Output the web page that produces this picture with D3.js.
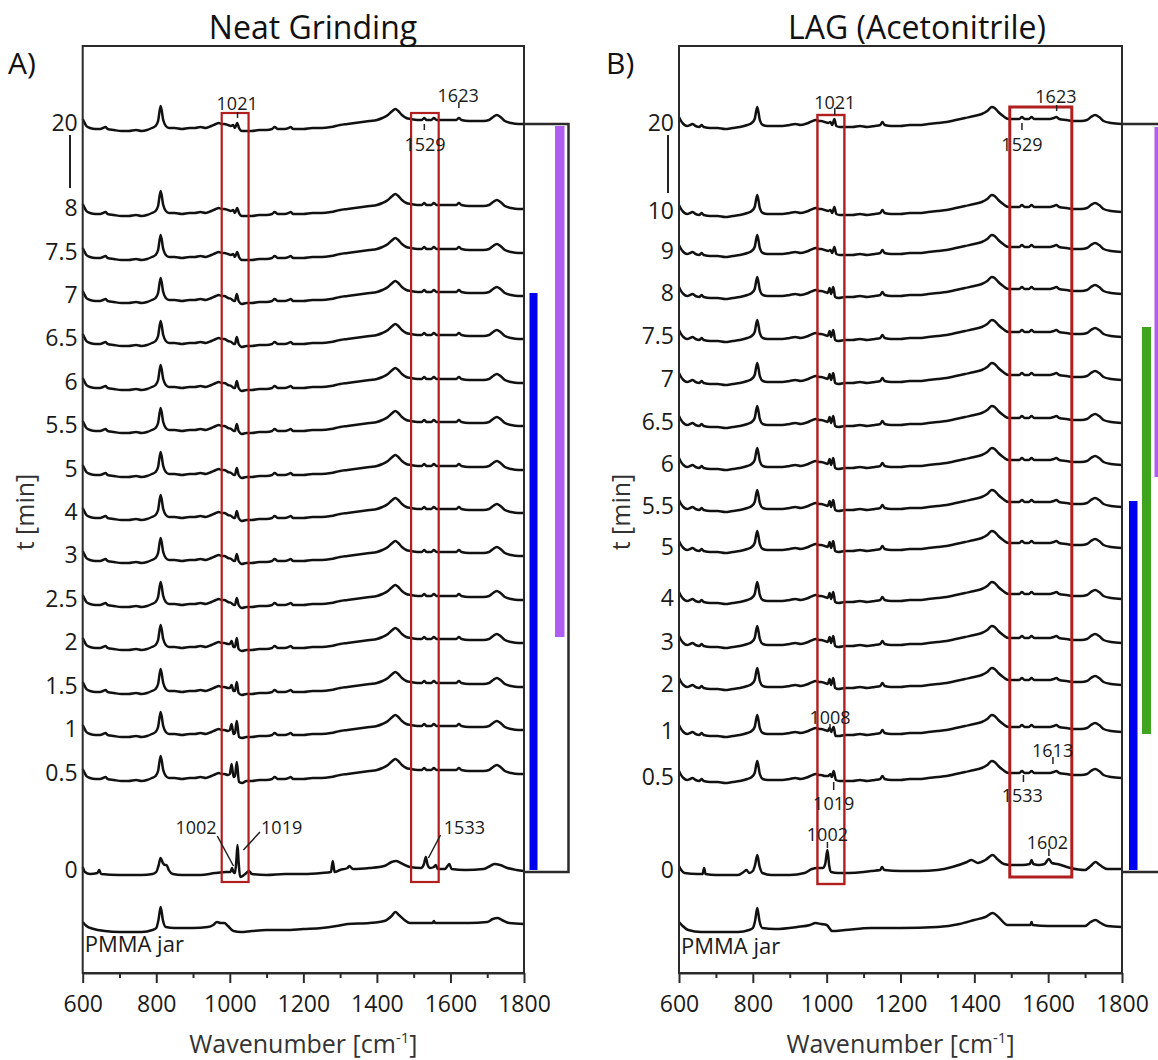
<!DOCTYPE html>
<html>
<head>
<meta charset="UTF-8">
<style>
  body { margin: 0; background: #fff; }
  svg { display: block; font-family: "Open Sans", sans-serif; }
</style>
</head>
<body>
<svg></svg>
<script src="https://d3js.org/d3.v7.min.js"></script>
<script>
const width = 1158, height = 1060;

// wavenumber ticks
const wnTicks = [600, 800, 1000, 1200, 1400, 1600, 1800];
const wnMinor = [700, 900, 1100, 1300, 1500, 1700];

// ---- panel A (neat grinding) ----
const timesA = ["20", "8", "7.5", "7", "6.5", "6", "5.5", "5", "4", "3", "2.5", "2", "1.5", "1", "0.5", "0"];
const offsetsA = [747, 662, 618, 575, 532, 488, 445, 401, 358, 315, 271, 228, 184, 141, 97, 0];
const jarOffsetA = -53;

// generic spectrum shape [wavenumber, intensity a.u.]
const baseA = [[600,4],[604,1],[610,-3],[620,-5],[635,-6],[648,-6],[655,-5],[662,-4],[668,-6],[685,-7],[705,-8],[725,-8],[745,-7],[760,-8],[775,-7],[788,-5],[798,-3],[805,2],[812,17],[819,3],[826,-3],[835,-5],[850,-5],[870,-6],[890,-5],[905,-5],[920,-4],[935,-5],[950,-3],[962,-1],[970,0],[978,-1],
  [1060,-8],[1080,-7],[1100,-7],[1115,-6],[1122,-4],[1130,-6],[1150,-6],[1160,-5],[1166,-4],[1172,-6],[1200,-6],[1225,-5],[1250,-5],[1275,-4],[1300,-2],[1320,-1],[1340,0],[1360,1],[1380,2],[1400,3],[1415,5],[1430,8],[1442,12],[1450,14],[1458,12],[1468,8],[1480,5],[1492,4],[1510,3],[1522,3],[1529,5],[1535,3],[1548,3],[1555,5],[1562,3],[1580,3],[1600,3],[1616,3],[1623,5],[1630,3],[1650,2],[1670,2],[1690,2],[1705,3],[1716,6],[1726,8],[1736,6],[1748,2],[1765,0],[1785,-1],[1800,-1]];

// 985-1045 band, changes with milling time
const bandA20 = [[985,-1],[995,-2],[1003,-3],[1009,-2],[1014,-5],[1020,0],[1025,-5],[1033,-8],[1045,-8]];
const bandA7 = [[985,-1],[995,-3],[1004,-4],[1011,-6],[1014,-6],[1019,1],[1024,-6],[1033,-9],[1045,-8]];
const bandA2 = [[985,-1],[995,-2],[1000,-2],[1005,1],[1010,-5],[1014,-5],[1019,4],[1024,-7],[1033,-9],[1045,-8]];
const bandA1 = [[985,-1],[995,-2],[1000,-1],[1005,5],[1010,-5],[1014,-4],[1019,8],[1025,-8],[1034,-9],[1045,-8]];
const bandA05 = [[985,-1],[995,-2],[1000,-1],[1005,9],[1010,-4],[1014,-3],[1019,11],[1025,-9],[1034,-10],[1045,-8]];
const bandsA = [bandA20, bandA20, bandA20, bandA7, bandA7, bandA7, bandA7, bandA7, bandA7, bandA7, bandA7, bandA2, bandA2, bandA1, bandA05];

const zeroA = [[600,3],[606,-2],[620,-4],[640,-3],[645,0],[650,-4],[700,-5],[760,-5],[790,-4],[800,-2],[806,4],[812,12],[818,7],[824,5],[828,5],[834,0],[845,-4],[870,-5],[920,-5],[960,-3],[990,-2],[1002,-2],[1006,2],[1010,-2],[1014,-3],[1018,10],[1021,25],[1024,8],[1028,-7],[1035,-6],[1045,-3],[1052,-1],[1060,-4],[1100,-5],[1150,-4],[1200,-4],[1250,-3],[1275,-2],[1280,9],[1285,-2],[1300,0],[1320,2],[1325,4],[1335,1],[1380,2],[1420,4],[1440,8],[1452,9],[1465,7],[1490,3],[1520,2],[1528,6],[1533,13],[1538,5],[1545,2],[1555,3],[1560,5],[1566,1],[1585,1],[1592,4],[1597,6],[1603,1],[1640,0],[1690,1],[1708,4],[1720,6],[1735,5],[1755,2],[1780,0],[1800,-1]];

const jarA = [[600,1],[610,-3],[630,-6],[660,-8],[700,-9],[760,-9],[790,-7],[800,-5],[806,3],[812,16],[818,3],[826,-4],[850,-5],[900,-5],[940,-4],[955,-2],[965,1],[975,0],[985,0],[995,-3],[1010,-8],[1030,-9],[1060,-8],[1100,-7],[1150,-7],[1200,-6],[1250,-5],[1290,-3],[1320,-1],[1380,0],[1420,2],[1440,7],[1450,11],[1460,8],[1475,3],[1490,0],[1520,0],[1552,0],[1555,2],[1558,0],[1600,0],[1650,0],[1700,1],[1715,4],[1728,5],[1740,3],[1760,0],[1800,-1]];

// [text, text wn, text offset, line x1, y1, x2, y2]
const annotA = [
  ["1021", 1020, 767, 1021, 758, 1021, 752],
  ["1623", 1621, 775, 1623, 768, 1623, 762],
  ["1529", 1531, 726, 1529, 746, 1529, 740],
  ["1002", 908, 43, 966, 34, 1010, 4],
  ["1019", 1141, 43, 1082, 38, 1037, 20],
  ["1533", 1638, 43, 1573, 35, 1540, 12]
];
// [wn from, wn to, top, bottom]
const boxesA = [[978, 1051, 757, -12], [1493, 1568, 757, -12]];
// time-range bars [bottom, top]
const barsA = [[0, 577], [233, 744]];

// ---- panel B (LAG acetonitrile) ----
const timesB = ["20", "10", "9", "8", "7.5", "7", "6.5", "6", "5.5", "5", "4", "3", "2", "1", "0.5", "0"];
const offsetsB = [747, 659, 619, 577, 534, 491, 448, 406, 364, 323, 272, 228, 186, 139, 93, 0];
const jarOffsetB = -55;

const baseB = [[600,6],[604,3],[612,-1],[622,-3],[630,-2],[636,-1],[645,-3],[655,-4],[661,-2],[667,-4],[685,-5],[705,-5],[725,-6],[745,-5],[765,-4],[785,-2],[797,0],[805,4],[812,16],[819,3],[827,-2],[840,-3],[860,-3],[880,-3],[900,-2],[915,-1],[930,-2],[950,0],[962,2],[970,3],[980,2],
  [1070,-4],[1090,-3],[1110,-4],[1130,-3],[1145,-2],[1151,1],[1157,-2],[1175,-3],[1200,-3],[1225,-2],[1250,-2],[1275,-1],[1300,0],[1325,1],[1350,3],[1375,5],[1400,7],[1420,9],[1435,12],[1447,16],[1455,15],[1465,11],[1478,7],[1492,4],[1510,4],[1522,4],[1529,6],[1536,4],[1548,4],[1555,6],[1562,4],[1585,4],[1605,4],[1615,5],[1622,6],[1630,4],[1650,3],[1670,2],[1690,2],[1705,3],[1716,6],[1727,8],[1738,6],[1750,2],[1770,0],[1800,-1]];

const bandB20 = [[985,2],[995,1],[1004,0],[1010,1],[1015,-2],[1021,4],[1026,-3],[1036,-4],[1050,-4]];
const bandB8 = [[985,2],[995,1],[1003,0],[1008,5],[1012,-1],[1018,6],[1023,-4],[1032,-5],[1050,-4]];
const bandB1 = [[985,2],[995,1],[1003,0],[1008,3],[1012,-1],[1019,4],[1024,-5],[1034,-5],[1050,-4]];
const bandB05 = [[985,2],[995,1],[1004,1],[1010,3],[1014,0],[1019,6],[1025,-3],[1035,-4],[1050,-4]];
const bandsB = [bandB20, bandB20, bandB20, bandB8, bandB8, bandB8, bandB8, bandB8, bandB8, bandB8, bandB8, bandB8, bandB8, bandB1, bandB05];

const zeroB = [[600,4],[606,0],[615,-3],[650,-4],[664,-4],[668,2],[672,-4],[700,-5],[760,-5],[775,-2],[783,0],[790,-3],[800,-1],[806,5],[812,15],[818,4],[826,-3],[850,-5],[900,-5],[940,-3],[960,1],[975,2],[990,2],[996,6],[1002,20],[1007,4],[1012,-2],[1030,-3],[1060,-3],[1100,-2],[1120,-1],[1145,0],[1150,3],[1156,0],[1200,-1],[1250,-1],[1300,0],[1340,3],[1380,8],[1392,10],[1410,7],[1430,10],[1450,15],[1462,11],[1480,6],[1500,5],[1530,5],[1550,6],[1555,10],[1560,6],[1575,5],[1590,6],[1602,11],[1610,7],[1625,6],[1660,2],[1700,0],[1715,4],[1728,8],[1740,5],[1760,1],[1800,1]];

const jarB = [[600,3],[610,-1],[625,-5],[660,-7],[700,-7],[760,-7],[790,-5],[800,-3],[806,4],[812,17],[818,4],[826,-3],[860,-4],[920,-2],[955,0],[970,2],[985,1],[1000,0],[1015,-6],[1050,-5],[1120,-3],[1200,-3],[1300,-2],[1360,1],[1400,5],[1430,8],[1450,12],[1465,8],[1490,0],[1520,0],[1552,0],[1555,3],[1558,0],[1600,-1],[1650,-1],[1700,-1],[1715,3],[1728,5],[1742,2],[1760,-1],[1800,-2]];

const annotB = [
  ["1021", 1022, 768, 1022, 762, 1022, 755],
  ["1623", 1621, 774, 1623, 765, 1623, 759],
  ["1529", 1529, 726, 1529, 747, 1529, 740],
  ["1008", 1009, 153, 1009, 146, 1009, 139],
  ["1019", 1019, 67, 1019, 88, 1019, 80],
  ["1613", 1612, 120, 1613, 113, 1613, 106],
  ["1533", 1530, 75, 1533, 95, 1533, 88],
  ["1002", 1002, 36, 1002, 28, 1002, 22],
  ["1602", 1598, 28, 1602, 21, 1602, 14]
];
const boxesB = [[975, 1048, 755, -14], [1496, 1664, 763, -7]];
const barsB = [[0, 369], [136, 543], [393, 743]];

// ---- drawing ----
const svg = d3.select("svg").attr("width", width).attr("height", height);

const y = d3.scaleLinear().domain([-103, 824]).range([973, 46]);

function merge(base, band) {
  const lo = band[0][0], hi = band[band.length - 1][0];
  return base.filter(p => p[0] < lo || p[0] > hi).concat(band).sort((a, b) => a[0] - b[0]);
}

function drawPanel(cfg) {
  const x = d3.scaleLinear().domain([600, 1800]).range([cfg.left, cfg.right]);
  const g = svg.append("g");

  // traces
  const line = off => d3.line()
    .x(d => x(d[0]))
    .y(d => y(off + d[1]))
    .curve(d3.curveMonotoneX);

  const traces = cfg.bands.map((b, i) => ({ off: cfg.offsets[i], pts: merge(cfg.base, b) }));
  traces.push({ off: 0, pts: cfg.zero });
  traces.push({ off: cfg.jarOffset, pts: cfg.jar });

  g.append("g").selectAll("path")
    .data(traces)
    .enter()
    .append("path")
    .attr("d", d => line(d.off)(d.pts))
    .attr("fill", "none")
    .attr("stroke", "#111")
    .attr("stroke-width", 2.5)
    .attr("stroke-linejoin", "round");

  // red boxes
  g.append("g").selectAll("rect")
    .data(cfg.boxes)
    .enter()
    .append("rect")
    .attr("x", d => x(d[0]))
    .attr("width", d => x(d[1]) - x(d[0]))
    .attr("y", d => y(d[2]))
    .attr("height", d => y(d[3]) - y(d[2]))
    .attr("fill", "none")
    .attr("stroke", "#b01e1e")
    .attr("stroke-width", (d, i) => cfg.boxWidths[i]);

  // peak annotations
  const ann = g.append("g");
  cfg.annot.forEach(a => {
    ann.append("text")
      .attr("x", x(a[1]))
      .attr("y", y(a[2]))
      .attr("text-anchor", "middle")
      .attr("dominant-baseline", "central")
      .style("font-size", "18px")
      .attr("fill", "#1a1a1a")
      .text(a[0]);
    ann.append("line")
      .attr("x1", x(a[3])).attr("y1", y(a[4]))
      .attr("x2", x(a[5])).attr("y2", y(a[6]))
      .attr("stroke", "#222")
      .attr("stroke-width", 1.5);
  });

  // plot frame
  g.append("rect")
    .attr("x", cfg.left).attr("y", 46)
    .attr("width", cfg.right - cfg.left).attr("height", 973 - 46)
    .attr("fill", "none").attr("stroke", "#2b2b2b").attr("stroke-width", 2);

  // x axis
  const xa = g.append("g")
    .attr("transform", "translate(0,973)")
    .call(d3.axisBottom(x).tickValues(wnTicks).tickFormat(d3.format("d")).tickSize(10).tickPadding(13).tickSizeOuter(0));
  xa.select(".domain").attr("stroke", "#2b2b2b").attr("stroke-width", 2);
  xa.selectAll(".tick line").attr("stroke", "#2b2b2b").attr("stroke-width", 2);
  xa.selectAll("text").style("font-size", "23px").style("font-family", "Open Sans").attr("fill", "#1a1a1a");

  const xm = g.append("g")
    .attr("transform", "translate(0,973)")
    .call(d3.axisBottom(x).tickValues(wnMinor).tickSize(5).tickFormat(""));
  xm.select(".domain").remove();
  xm.selectAll(".tick line").attr("stroke", "#2b2b2b").attr("stroke-width", 2);

  // y axis (time labels)
  const ya = g.append("g")
    .attr("transform", `translate(${cfg.left},0)`)
    .call(d3.axisLeft(y).tickValues(cfg.offsets).tickFormat((d, i) => cfg.times[i]).tickSize(0).tickPadding(5));
  ya.select(".domain").remove();
  ya.selectAll("text").style("font-size", "23px").style("font-family", "Open Sans").attr("fill", "#1a1a1a");

  // axis break under "20"
  g.append("line")
    .attr("x1", cfg.breakX).attr("x2", cfg.breakX)
    .attr("y1", 135).attr("y2", cfg.breakEnd)
    .attr("stroke", "#222").attr("stroke-width", 2);

  // PMMA jar label
  g.append("text")
    .attr("x", cfg.left + 2)
    .attr("y", y(cfg.jarOffset) + 29)
    .style("font-size", "22px")
    .attr("fill", "#1a1a1a")
    .text("PMMA jar");

  // axis titles
  const xt = g.append("text")
    .attr("x", (cfg.left + cfg.right) / 2)
    .attr("y", 1053)
    .attr("text-anchor", "middle")
    .style("font-size", "25px")
    .attr("fill", "#333");
  xt.append("tspan").text("Wavenumber [cm");
  xt.append("tspan").attr("dy", -10).style("font-size", "15px").text("-1");
  xt.append("tspan").attr("dy", 10).text("]");

  g.append("text")
    .attr("transform", `translate(${cfg.ylabX},512) rotate(-90)`)
    .attr("text-anchor", "middle")
    .attr("dominant-baseline", "central")
    .style("font-size", "25px")
    .attr("fill", "#333")
    .text("t [min]");

  g.append("text")
    .attr("x", cfg.titleX).attr("y", 39)
    .attr("text-anchor", "middle")
    .style("font-size", "32px")
    .attr("fill", "#111")
    .text(cfg.title);

  g.append("text")
    .attr("x", cfg.letterX).attr("y", 74)
    .style("font-size", "30px")
    .attr("fill", "#111")
    .text(cfg.letter);

  // bracket + time-range bars
  g.append("path")
    .attr("d", `M${cfg.right},${y(746)} H${cfg.bracketX} V${y(-2)} H${cfg.right}`)
    .attr("fill", "none")
    .attr("stroke", "#2b2b2b")
    .attr("stroke-width", 2.5);

  g.append("g").selectAll("rect")
    .data(cfg.bars)
    .enter()
    .append("rect")
    .attr("x", (d, i) => cfg.barX[i])
    .attr("width", (d, i) => cfg.barW[i])
    .attr("y", d => y(d[1]))
    .attr("height", d => y(d[0]) - y(d[1]))
    .attr("fill", (d, i) => cfg.barColors[i]);
}

drawPanel({
  left: 82.7, right: 524,
  base: baseA, bands: bandsA, offsets: offsetsA, times: timesA,
  zero: zeroA, jar: jarA, jarOffset: jarOffsetA,
  annot: annotA, boxes: boxesA, boxWidths: [2.2, 2.2],
  bars: barsA, barX: [529.5, 555], barW: [8, 9.5], barColors: ["#0000f0", "#b05ef2"],
  bracketX: 568.5, breakX: 70, breakEnd: 188,
  title: "Neat Grinding", titleX: 313, letter: "A)", letterX: 8, ylabX: 24
});

drawPanel({
  left: 679, right: 1122,
  base: baseB, bands: bandsB, offsets: offsetsB, times: timesB,
  zero: zeroB, jar: jarB, jarOffset: jarOffsetB,
  annot: annotB, boxes: boxesB, boxWidths: [2.4, 3],
  bars: barsB, barX: [1129, 1142, 1154.5], barW: [8.5, 9, 9], barColors: ["#0000f0", "#40a41e", "#b05ef2"],
  bracketX: 1168, breakX: 668, breakEnd: 193,
  title: "LAG (Acetonitrile)", titleX: 917, letter: "B)", letterX: 606, ylabX: 620
});
</script>
</body>
</html>
